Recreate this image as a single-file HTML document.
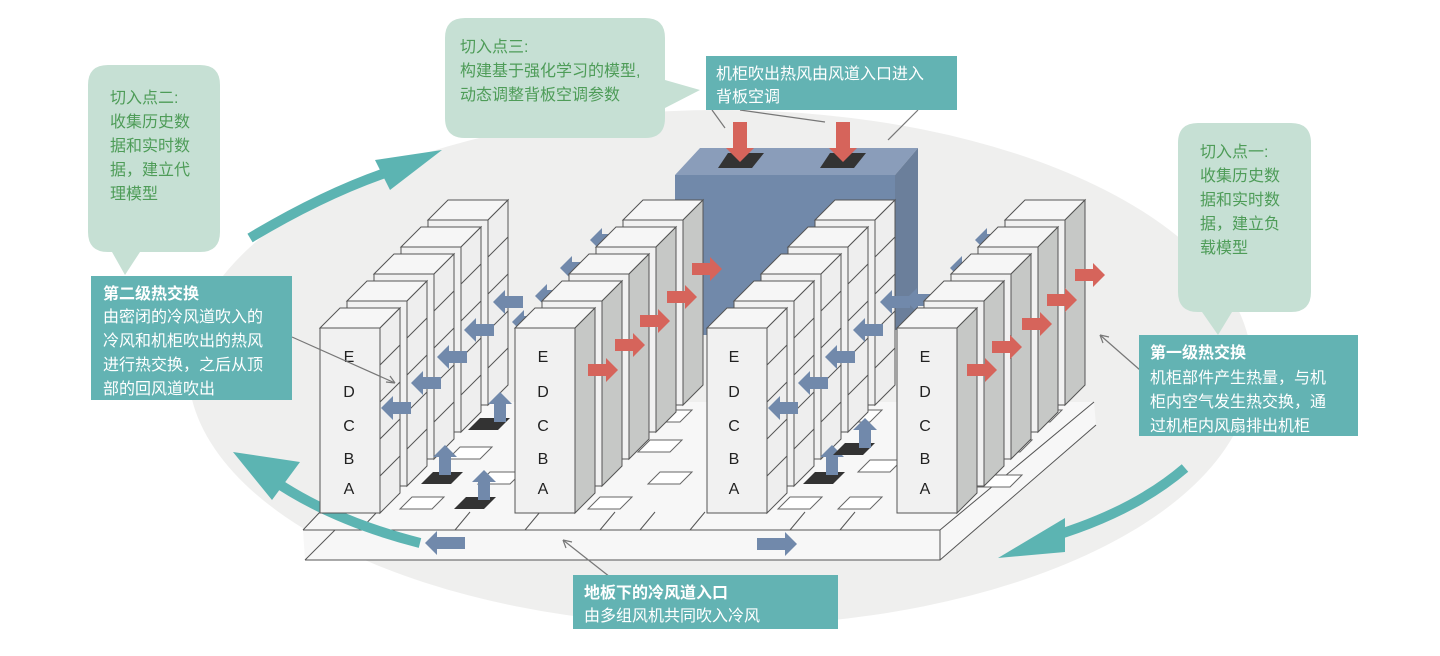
<!DOCTYPE html>
<html><head><meta charset="utf-8"><style>
html,body{margin:0;padding:0;background:#fff;}
svg{display:block;}
text{font-family:"Liberation Sans","Noto Sans CJK SC",sans-serif;}
.g{fill:#4e9c58;font-size:16px;}
.w{fill:#fff;font-size:16px;}
.b{font-weight:bold;}
</style></head><body>
<svg width="1440" height="656" viewBox="0 0 1440 656" xmlns="http://www.w3.org/2000/svg">
<defs>
  <g id="rackS">
    <polygon points="0,0 60,0 60,185 0,185" fill="#f1f1f1" stroke="#555" stroke-width="1"/>
    <polygon points="0,0 20,-20 80,-20 60,0" fill="#f6f6f6" stroke="#555" stroke-width="1"/>
    <polygon points="60,0 80,-20 80,165 60,185" fill="#eeeeee" stroke="#555" stroke-width="1"/>
    <path d="M60,37 L80,17 M60,74 L80,54 M60,111 L80,91 M60,148 L80,128" stroke="#555" fill="none"/>
  </g>
  <g id="rackG">
    <polygon points="0,0 60,0 60,185 0,185" fill="#f1f1f1" stroke="#555" stroke-width="1"/>
    <polygon points="0,0 20,-20 80,-20 60,0" fill="#f6f6f6" stroke="#555" stroke-width="1"/>
    <polygon points="60,0 80,-20 80,165 60,185" fill="#c6c8c6" stroke="#555" stroke-width="1"/>
  </g>
  <polygon id="aL" points="0,0 12,-12 12,-6 30,-6 30,6 12,6 12,12" fill="#7189ab"/>
  <polygon id="aR" points="0,0 -12,-12 -12,-6 -30,-6 -30,6 -12,6 -12,12" fill="#d6645b"/>
  <polygon id="aRb" points="0,0 -12,-12 -12,-6 -40,-6 -40,6 -12,6 -12,12" fill="#7189ab"/>
  <polygon id="aU" points="0,0 12,12 6,12 6,30 -6,30 -6,12 -12,12" fill="#7189ab"/>
  <polygon id="aD" points="0,0 -14,-14 -7,-14 -7,-40 7,-40 7,-14 14,-14" fill="#d6645b"/>
  <polygon id="vent" points="0,0 30,0 18,12 -12,12" fill="#333"/>
  <polygon id="tile" points="0,0 32,0 20,12 -12,12" fill="#fff" stroke="#666"/>
</defs>

<ellipse cx="720" cy="368" rx="532" ry="258" fill="#efefee"/>

<!-- floor -->
<polygon points="305,560 303,530 430,402 1094,402 1096,425 940,560" fill="#f7f7f7"/>
<g stroke="#555" stroke-width="1" fill="none">
  <path d="M303,530 L940,530 L1094,402"/>
  <path d="M305,560 L940,560 L1096,425"/>
  <path d="M305,560 L335,530"/>
  <path d="M320,512 L303,530 M940,530 L940,560"/>
  <path d="M360,530 L377,512 M455,530 L470,512 M525,530 L540,512 M600,530 L615,512 M640,530 L655,512 M690,530 L705,512 M790,530 L805,512 M840,530 L855,512"/>
</g>
<use href="#tile" x="412" y="497"/><use href="#tile" x="490" y="472"/><use href="#tile" x="460" y="447"/>
<use href="#tile" x="600" y="497"/><use href="#tile" x="660" y="472"/><use href="#tile" x="650" y="440"/>
<use href="#tile" x="790" y="497"/><use href="#tile" x="850" y="497"/><use href="#tile" x="870" y="460"/>
<use href="#tile" x="1000" y="440"/><use href="#tile" x="1030" y="410"/><use href="#tile" x="990" y="475"/>
<use href="#tile" x="850" y="410"/><use href="#tile" x="660" y="410"/>

<!-- teal curved arrows -->
<path d="M250,238 Q330,190 400,168" stroke="#5cb4b2" stroke-width="10" fill="none"/>
<polygon points="375,160 442,150 390,190" fill="#5cb4b2"/>
<path d="M420,543 Q330,520 270,478" stroke="#5cb4b2" stroke-width="10" fill="none"/>
<polygon points="233,452 300,462 272,500" fill="#5cb4b2"/>
<path d="M1185,468 Q1130,515 1040,540" stroke="#5cb4b2" stroke-width="10" fill="none"/>
<polygon points="998,558 1065,518 1065,552" fill="#5cb4b2"/>

<!-- blue backboard -->
<polygon points="675,175 700,148 918,148 895,175" fill="#8a9dba"/>
<polygon points="895,175 918,148 918,330 895,330" fill="#6b7f9b"/>
<rect x="675" y="175" width="220" height="160" fill="#7189aa"/>
<polygon points="718,168 728,153 764,153 752,168" fill="#333"/>
<polygon points="820,168 830,153 866,153 854,168" fill="#333"/>
<use href="#aD" x="740" y="162"/>
<use href="#aD" x="843" y="162"/>

<use href="#aL" x="590" y="240"/><use href="#aL" x="560" y="268"/><use href="#aL" x="535" y="296"/><use href="#aL" x="512" y="322"/>
<!-- group 1 -->
<use href="#rackS" x="428" y="220"/><use href="#rackS" x="401" y="247"/><use href="#rackS" x="374" y="274"/><use href="#rackS" x="347" y="301"/><use href="#rackS" x="320" y="328"/>
<!-- group 2 -->
<use href="#rackG" x="623" y="220"/><use href="#rackG" x="596" y="247"/><use href="#rackG" x="569" y="274"/><use href="#rackG" x="542" y="301"/><use href="#rackG" x="515" y="328"/>
<use href="#aL" x="905" y="300"/><use href="#aL" x="950" y="268"/><use href="#aL" x="975" y="240"/>
<!-- group 3 -->
<use href="#rackS" x="815" y="220"/><use href="#rackS" x="788" y="247"/><use href="#rackS" x="761" y="274"/><use href="#rackS" x="734" y="301"/><use href="#rackS" x="707" y="328"/>
<!-- group 4 -->
<use href="#rackG" x="1005" y="220"/><use href="#rackG" x="978" y="247"/><use href="#rackG" x="951" y="274"/><use href="#rackG" x="924" y="301"/><use href="#rackG" x="897" y="328"/>

<g font-size="16" fill="#222" text-anchor="middle">
<text x="349" y="362">E</text><text x="349" y="397">D</text><text x="349" y="431">C</text><text x="349" y="464">B</text><text x="349" y="494">A</text>
<text x="543" y="362">E</text><text x="543" y="397">D</text><text x="543" y="431">C</text><text x="543" y="464">B</text><text x="543" y="494">A</text>
<text x="734" y="362">E</text><text x="734" y="397">D</text><text x="734" y="431">C</text><text x="734" y="464">B</text><text x="734" y="494">A</text>
<text x="925" y="362">E</text><text x="925" y="397">D</text><text x="925" y="431">C</text><text x="925" y="464">B</text><text x="925" y="494">A</text>
</g>

<use href="#aL" x="381" y="408"/><use href="#aL" x="411" y="383"/><use href="#aL" x="437" y="357"/><use href="#aL" x="464" y="330"/><use href="#aL" x="493" y="302"/>
<use href="#vent" x="433" y="472"/><use href="#aU" x="445" y="445"/>
<use href="#vent" x="466" y="497"/><use href="#aU" x="484" y="470"/>
<use href="#vent" x="480" y="418"/><use href="#aU" x="500" y="392"/>
<use href="#aL" x="768" y="408"/><use href="#aL" x="798" y="383"/><use href="#aL" x="825" y="357"/><use href="#aL" x="853" y="330"/><use href="#aL" x="880" y="302"/>
<use href="#vent" x="815" y="472"/><use href="#aU" x="832" y="445"/>
<use href="#vent" x="845" y="443"/><use href="#aU" x="865" y="418"/>
<use href="#aR" x="618" y="370"/><use href="#aR" x="645" y="345"/><use href="#aR" x="670" y="321"/><use href="#aR" x="697" y="297"/><use href="#aR" x="722" y="269"/>
<use href="#aR" x="997" y="370"/><use href="#aR" x="1022" y="347"/><use href="#aR" x="1052" y="324"/><use href="#aR" x="1077" y="300"/><use href="#aR" x="1105" y="275"/>
<g transform="translate(425,543) scale(-1,1)"><use href="#aRb" x="0" y="0"/></g>
<use href="#aRb" x="797" y="544"/>

<g stroke="#777" stroke-width="1.2" fill="none">
<path d="M292,337 L395,383"/><path d="M395,383 l-9,-1 M395,383 l-5,-7"/>
<path d="M610,577 L563,540"/><path d="M563,540 l9,2 M563,540 l3,8"/>
<path d="M1140,370 L1100,335"/><path d="M1100,335 l9,2 M1100,335 l3,8"/>
<path d="M712,110 L725,128"/><path d="M740,110 L825,122"/><path d="M918,110 L888,140"/>
</g>

<path d="M108,65 H200 Q220,65 220,85 V232 Q220,252 200,252 H140 L125,275 L112,252 H108 Q88,252 88,232 V85 Q88,65 108,65 Z" fill="#c6e0d4"/>
<text class="g"><tspan x="110" y="103">切入点二:</tspan><tspan x="110" y="127">收集历史数</tspan><tspan x="110" y="151">据和实时数</tspan><tspan x="110" y="175">据，建立代</tspan><tspan x="110" y="199">理模型</tspan></text>

<path d="M465,18 H645 Q665,18 665,38 V80 L700,90 L665,108 V118 Q665,138 645,138 H465 Q445,138 445,118 V38 Q445,18 465,18 Z" fill="#c6e0d4"/>
<text class="g"><tspan x="460" y="52">切入点三:</tspan><tspan x="460" y="76">构建基于强化学习的模型,</tspan><tspan x="460" y="100">动态调整背板空调参数</tspan></text>

<path d="M1198,123 H1291 Q1311,123 1311,143 V292 Q1311,312 1291,312 H1232 L1218,335 L1202,312 H1198 Q1178,312 1178,292 V143 Q1178,123 1198,123 Z" fill="#c6e0d4"/>
<text class="g"><tspan x="1200" y="157">切入点一:</tspan><tspan x="1200" y="181">收集历史数</tspan><tspan x="1200" y="205">据和实时数</tspan><tspan x="1200" y="229">据，建立负</tspan><tspan x="1200" y="253">载模型</tspan></text>

<rect x="91" y="276" width="201" height="124" fill="#63b3b3"/>
<text class="w"><tspan x="103" y="299" class="b">第二级热交换</tspan><tspan x="103" y="322">由密闭的冷风道吹入的</tspan><tspan x="103" y="346">冷风和机柜吹出的热风</tspan><tspan x="103" y="370">进行热交换，之后从顶</tspan><tspan x="103" y="394">部的回风道吹出</tspan></text>

<rect x="706" y="56" width="251" height="54" fill="#63b3b3"/>
<text class="w"><tspan x="716" y="79">机柜吹出热风由风道入口进入</tspan><tspan x="716" y="102">背板空调</tspan></text>

<rect x="1139" y="335" width="219" height="101" fill="#63b3b3"/>
<text class="w"><tspan x="1150" y="358" class="b">第一级热交换</tspan><tspan x="1150" y="383">机柜部件产生热量，与机</tspan><tspan x="1150" y="407">柜内空气发生热交换，通</tspan><tspan x="1150" y="431">过机柜内风扇排出机柜</tspan></text>

<rect x="573" y="575" width="265" height="54" fill="#63b3b3"/>
<text class="w"><tspan x="584" y="598" class="b">地板下的冷风道入口</tspan><tspan x="584" y="621">由多组风机共同吹入冷风</tspan></text>
</svg>
</body></html>
